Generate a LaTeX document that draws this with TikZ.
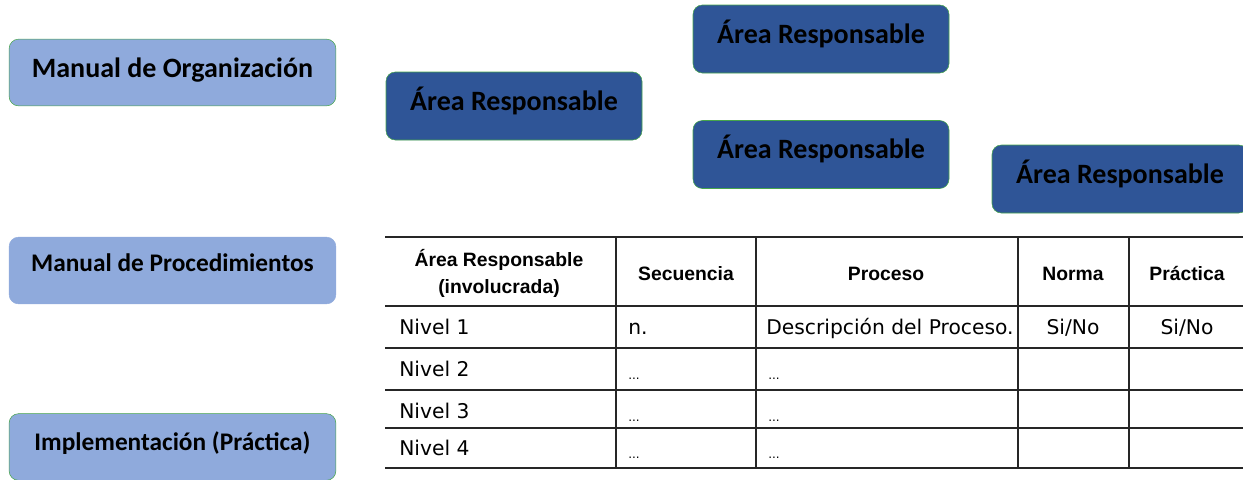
\documentclass[tikz,border=0pt]{standalone}
\usepackage{fontspec}
\setmainfont{Carlito}
\newfontfamily\tabfont{DejaVu Sans}
\newfontfamily\headfont{Liberation Sans}
\usepackage{tikz}

\definecolor{lightblue}{RGB}{143,170,220}
\definecolor{darkblue}{RGB}{47,85,151}
\definecolor{boxgreen}{RGB}{70,165,75}

\begin{document}
\begin{tikzpicture}[x=0.75pt, y=-0.75pt,
    manual/.style={draw=boxgreen, fill=lightblue, rounded corners=7pt, minimum width=245pt, minimum height=50pt, font=\bfseries\fontsize{19}{22}\selectfont},
    area/.style={draw=boxgreen, fill=darkblue, rounded corners=7pt, minimum width=192pt, minimum height=51pt, text height=13pt, text depth=7pt, font=\bfseries\fontsize{21}{24}\selectfont},
    head/.style={anchor=base, align=center, inner sep=0pt, font=\headfont\bfseries\fontsize{14.5}{20.25}\selectfont},
    cell/.style={anchor=base west, inner sep=0pt, font=\tabfont\fontsize{15.2}{18}\selectfont},
    mid/.style={cell, anchor=base},
    dots/.style={cell, font=\tabfont\fontsize{9}{11}\selectfont},
    rule/.style={line width=1.4pt, black!85}]
    \useasboundingbox (0,0) rectangle (1243,479);

    % left column
    \node[manual, font=\bfseries\fontsize{21}{24}\selectfont, text height=13pt, text depth=6pt] (org) at (172.5,72.5) {Manual de Organización};
    \node[manual, draw=lightblue, text height=13pt, text depth=11pt] (proc) at (172.5,270.5) {Manual de Procedimientos};
    \node[manual, text height=13pt, text depth=8pt] (impl) at (172.5,447) {Implementación (Práctica)};

    % areas
    \node[area] (area1) at (514,106) {Área Responsable};
    \node[area] (area2) at (821,39) {Área Responsable};
    \node[area] (area3) at (821,154.5) {Área Responsable};
    \node[area] (area4) at (1120,179) {Área Responsable};

    % table
    \foreach \y in {237,306,348,390,428,468}
        \draw[rule] (385,\y) -- (1243,\y);
    \foreach \x in {616,756,1018,1129}
        \draw[rule] (\x,237) -- (\x,468);

    \node[head] (h1) at (499,293) {Área Responsable\\(involucrada)};
    \node[head] (h2) at (686,280) {Secuencia};
    \node[head] (h3) at (886,280) {Proceso};
    \node[head] (h4) at (1073,280) {Norma};
    \node[head] (h5) at (1187,280) {Práctica};

    \node[cell] (n1) at (399,334) {Nivel 1};
    \node[cell] (n2) at (399,376) {Nivel 2};
    \node[cell] (n3) at (399,418) {Nivel 3};
    \node[cell] (n4) at (399,455) {Nivel 4};

    \node[cell] (s1) at (628,334) {n.};
    \node[cell] (p1) at (766,334) {Descripción del Proceso.};
    \node[mid] (nm1) at (1073,334) {Si/No};
    \node[mid] (pr1) at (1187,334) {Si/No};

    \node[dots] (s2) at (628,379) {...};
    \node[dots] (p2) at (768,379) {...};
    \node[dots] (s3) at (628,421) {...};
    \node[dots] (p3) at (768,421) {...};
    \node[dots] (s4) at (628,458) {...};
    \node[dots] (p4) at (768,458) {...};
\end{tikzpicture}
\end{document}
